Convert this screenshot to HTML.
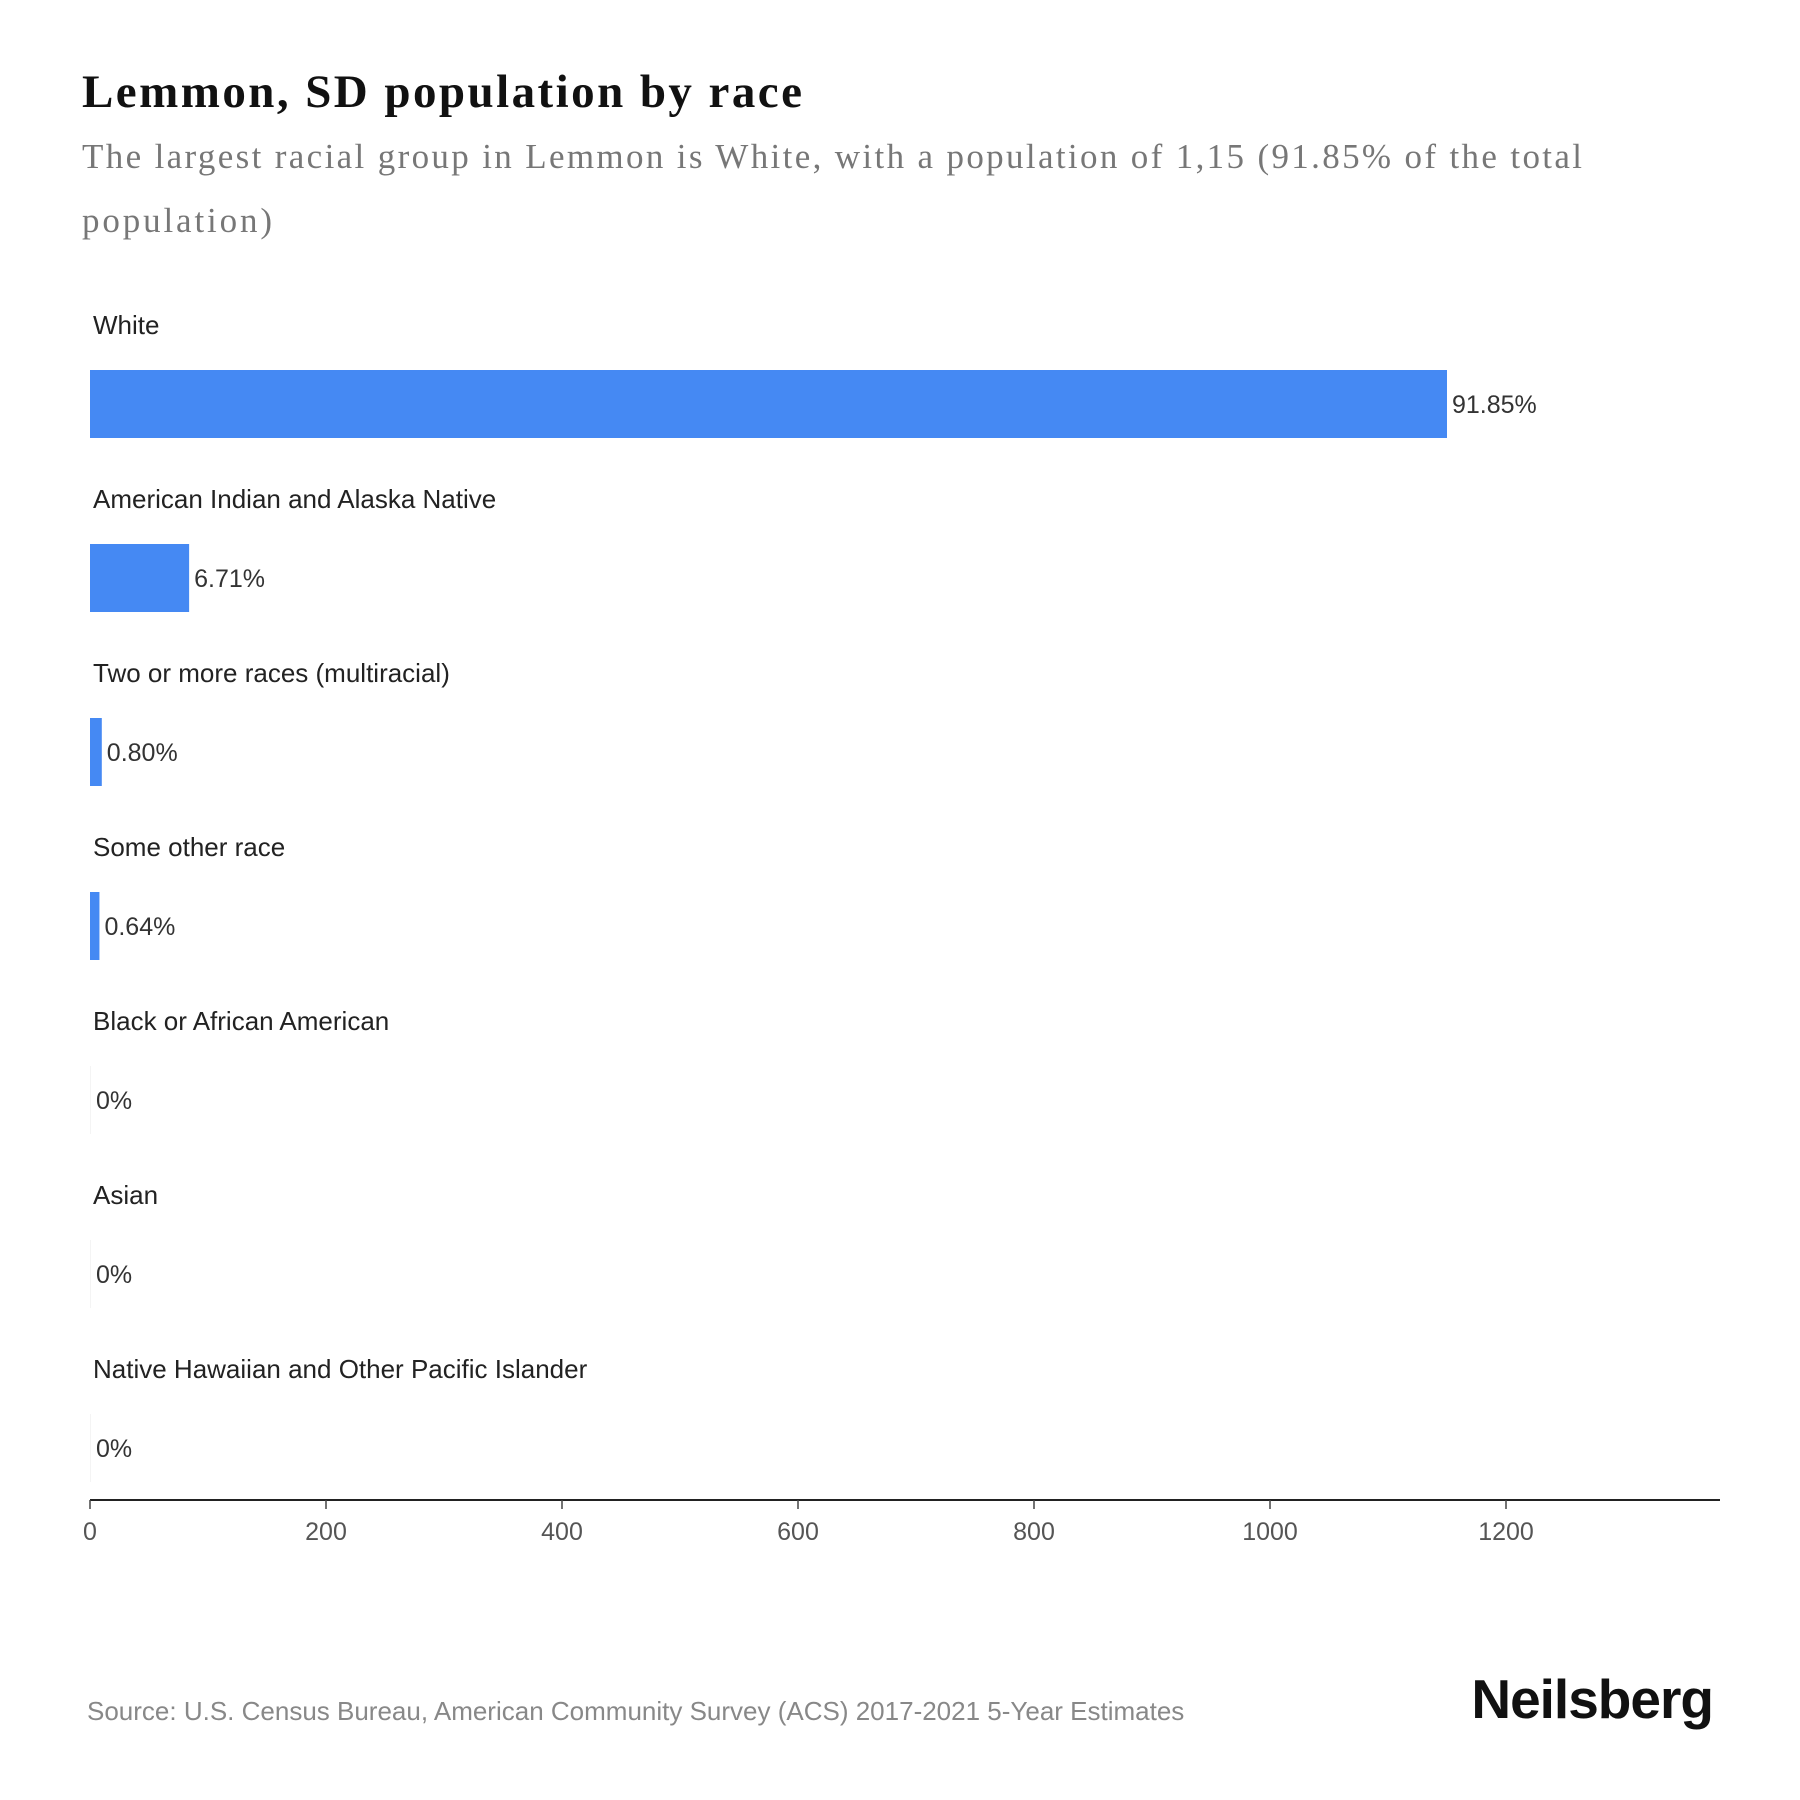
<!DOCTYPE html>
<html><head><meta charset="utf-8"><style>
body{margin:0;background:#fff;}
#c{position:relative;width:1800px;height:1800px;overflow:hidden;}
text{font-family:"Liberation Sans",sans-serif;}
</style></head><body>
<div id="c">
<svg id="s" width="1800" height="1800" xmlns="http://www.w3.org/2000/svg">
<text x="82" y="107" font-weight="bold" font-size="47" fill="#111" textLength="720" lengthAdjust="spacing" style="font-family:'Liberation Serif',serif">Lemmon, SD population by race</text>
<text x="82" y="168" font-size="35" fill="#777" textLength="1500" lengthAdjust="spacing" style="font-family:'Liberation Serif',serif">The largest racial group in Lemmon is White, with a population of 1,15 (91.85% of the total</text>
<text x="82" y="232" font-size="35" fill="#777" textLength="190" lengthAdjust="spacing" style="font-family:'Liberation Serif',serif">population)</text>
<g id="bars"></g>
<g id="axis"></g>
<text x="87" y="1729" font-size="26" fill="#888" transform="translate(0,-9)">Source: U.S. Census Bureau, American Community Survey (ACS) 2017-2021 5-Year Estimates</text>
<text x="1713" y="1718" text-anchor="end" font-size="55" font-weight="bold" fill="#111" letter-spacing="-1">Neilsberg</text>
</svg>
</div>
<script>
const categories=["White","American Indian and Alaska Native","Two or more races (multiracial)","Some other race","Black or African American","Asian","Native Hawaiian and Other Pacific Islander"];
const values=[1150,84,10,8,0,0,0];
const valueLabels=["91.85%","6.71%","0.80%","0.64%","0%","0%","0%"];
const ticks=[0,200,400,600,800,1000,1200];
const NS="http://www.w3.org/2000/svg";
const x0=90,pxPer=1.18;
const xs=v=>x0+v*pxPer;
const rowY=i=>325+i*174;
const bars=document.getElementById('bars');
function mk(t,a,p){const e=document.createElementNS(NS,t);for(const k in a)e.setAttribute(k,a[k]);p.appendChild(e);return e;}
categories.forEach((c,i)=>{
  const y=rowY(i);
  const l=mk('text',{x:93,y:y+9,'font-size':26,fill:'#222'},bars);l.textContent=c;
  
  
  const w=Math.max(xs(values[i])-x0,values[i]>0?0:1);
  const r=mk('rect',{x:x0,y:y+45,width:w,height:68,fill:values[i]>0?'#4589f3':'#f4f4f4'},bars);
  
  
  const v=mk('text',{x:x0+w+5,y:y+88,'font-size':25,fill:'#333'},bars);v.textContent=valueLabels[i];
  
  
});
const ax=document.getElementById('axis');
const al=mk('line',{x1:x0,x2:1720,y1:1500,y2:1500,stroke:'#222','stroke-width':2},ax);


ticks.forEach(t=>{
  const tl=mk('line',{x1:xs(t),x2:xs(t),y1:1500,y2:1509,stroke:'#444','stroke-width':1.5},ax);
  
  
  const tx=mk('text',{x:xs(t),y:1540,'font-size':25,fill:'#555','text-anchor':'middle'},ax);tx.textContent=t;
  
  
});
</script>
</body></html>
